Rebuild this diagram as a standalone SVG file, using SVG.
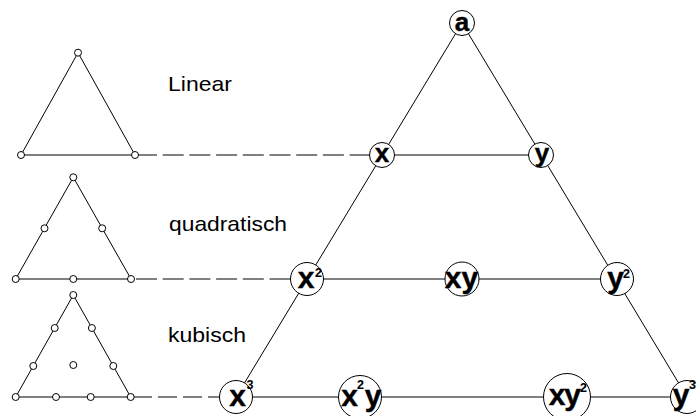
<svg xmlns="http://www.w3.org/2000/svg" width="696" height="416" viewBox="0 0 696 416">
<style>
.ln{stroke:#000;stroke-width:1;fill:none}
.dash{stroke:#000;stroke-width:1;fill:none;stroke-dasharray:21 5.7}
.sn{fill:#fff;stroke:#000;stroke-width:1}
.nd{fill:#fff;stroke:#000;stroke-width:1}
.lbl{font-family:"Liberation Sans",Arial,sans-serif;font-size:21px;fill:#000}
.t{font-family:"Liberation Sans",Arial,sans-serif;font-weight:bold;fill:#000;stroke:#000;stroke-width:0.4}
.b26{font-size:26px}
.b30{font-size:30px}
.sup{font-size:12.5px;stroke-width:0.1}
</style>
<rect width="696" height="416" fill="#fff"/>
<g id="connectors">
<line class="ln" x1="462" y1="23" x2="236" y2="397"/>
<line class="ln" x1="462" y1="23" x2="687" y2="397"/>
<line class="ln" x1="382" y1="155" x2="541" y2="155"/>
<line class="ln" x1="307" y1="279" x2="617" y2="279"/>
<line class="ln" x1="236" y1="397" x2="687" y2="397"/>
<line class="dash" x1="136" y1="155" x2="382" y2="155"/>
<line class="dash" x1="136" y1="279" x2="307" y2="279"/>
<line class="dash" x1="133" y1="397" x2="236" y2="397" style="stroke-dasharray:19 6"/>
</g>
<g id="linear-element">
<polygon class="ln" points="78,52.7 21,155 135,155"/>
<circle class="sn" cx="78" cy="52.7" r="3.5"/>
<circle class="sn" cx="21" cy="155" r="3.5"/>
<circle class="sn" cx="135" cy="155" r="3.5"/>
</g>
<g id="quadratic-element">
<polygon class="ln" points="73.3,177.3 15.7,279 131,279"/>
<circle class="sn" cx="73.3" cy="177.3" r="3.5"/>
<circle class="sn" cx="44.5" cy="228.3" r="3.5"/>
<circle class="sn" cx="102.2" cy="228.3" r="3.5"/>
<circle class="sn" cx="15.7" cy="279" r="3.5"/>
<circle class="sn" cx="73.3" cy="279" r="3.5"/>
<circle class="sn" cx="131" cy="279" r="3.5"/>
</g>
<g id="cubic-element">
<polygon class="ln" points="73.3,295 15.7,397 130.7,397"/>
<circle class="sn" cx="73.3" cy="295" r="3.5"/>
<circle class="sn" cx="54.7" cy="328" r="3.5"/>
<circle class="sn" cx="91.9" cy="328" r="3.5"/>
<circle class="sn" cx="33.3" cy="366" r="3.5"/>
<circle class="sn" cx="113.3" cy="366" r="3.5"/>
<circle class="sn" cx="73.3" cy="365" r="3.5"/>
<circle class="sn" cx="15.7" cy="397" r="3.5"/>
<circle class="sn" cx="56" cy="397" r="3.5"/>
<circle class="sn" cx="90.7" cy="397" r="3.5"/>
<circle class="sn" cx="130.7" cy="397" r="3.5"/>
</g>
<g id="labels">
<text class="lbl" x="168" y="91" textLength="64" lengthAdjust="spacingAndGlyphs">Linear</text>
<text class="lbl" x="169" y="231" textLength="118" lengthAdjust="spacingAndGlyphs">quadratisch</text>
<text class="lbl" x="168" y="342" textLength="78" lengthAdjust="spacingAndGlyphs">kubisch</text>
</g>
<g id="node-a">
<circle class="nd" cx="462" cy="23" r="12.5"/>
<text class="t b26" x="462" y="30.7" text-anchor="middle">a</text>
</g>
<g id="node-x">
<circle class="nd" cx="382" cy="155" r="12.5"/>
<text class="t b26" x="382" y="162" text-anchor="middle">x</text>
</g>
<g id="node-y">
<circle class="nd" cx="541" cy="155" r="12.5"/>
<text class="t b26" x="542" y="162" text-anchor="middle">y</text>
</g>
<g id="node-x2">
<circle class="nd" cx="307" cy="279" r="16.5"/>
<text class="t b30" x="306" y="288" text-anchor="middle">x</text>
<text class="t sup" x="315" y="277">2</text>
</g>
<g id="node-xy">
<circle class="nd" cx="462" cy="279" r="17"/>
<text class="t b30" x="461.5" y="288" text-anchor="middle">xy</text>
</g>
<g id="node-y2">
<circle class="nd" cx="617" cy="279" r="16.5"/>
<text class="t b30" x="615.5" y="288" text-anchor="middle">y</text>
<text class="t sup" x="623" y="278">2</text>
</g>
<g id="node-x3">
<circle class="nd" cx="236" cy="397" r="16.5"/>
<text class="t b30" x="237.5" y="406" text-anchor="middle">x</text>
<text class="t sup" x="246.5" y="389">3</text>
</g>
<g id="node-x2y">
<circle class="nd" cx="360" cy="397" r="21.5"/>
<text class="t b30" x="349.5" y="406" text-anchor="middle">x</text>
<text class="t sup" x="357" y="389">2</text>
<text class="t b30" x="373" y="406" text-anchor="middle">y</text>
</g>
<g id="node-xy2">
<circle class="nd" cx="567" cy="397" r="23.5"/>
<text class="t b30" x="557" y="405" text-anchor="middle">x</text>
<text class="t b30" x="572.5" y="405" text-anchor="middle">y</text>
<text class="t sup" x="580" y="392">2</text>
</g>
<g id="node-y3">
<circle class="nd" cx="687" cy="397" r="16.5"/>
<text class="t b30" x="681" y="405" text-anchor="middle">y</text>
<text class="t sup" x="689" y="389">3</text>
</g>
</svg>
